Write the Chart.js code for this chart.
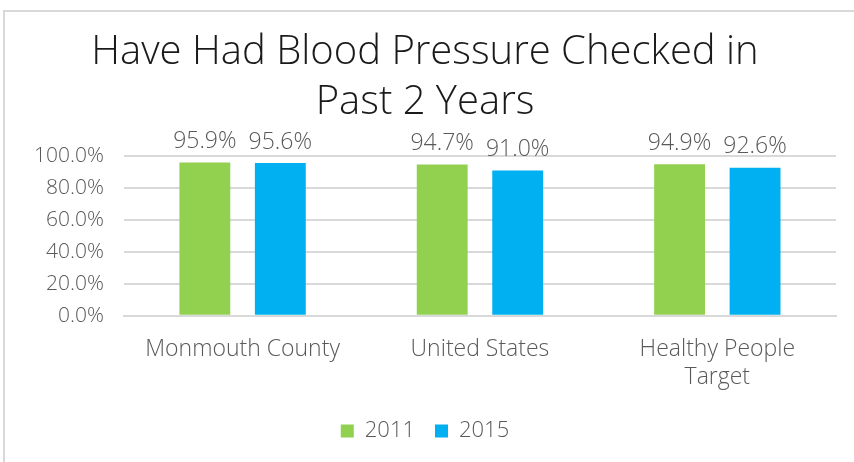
<!DOCTYPE html>
<html>
<head>
<meta charset="utf-8">
<script src="https://cdn.jsdelivr.net/npm/chart.js@4"></script>
<style>
  html, body { margin: 0; padding: 0; background: #fff; }
  #wrap { position: relative; width: 854px; height: 462px; overflow: hidden; }
  #frame {
    position: absolute; left: 3px; top: 10px; width: 900px; height: 500px;
    border-top: 2px solid #d9d9d9; border-left: 2px solid #d9d9d9;
  }
  canvas { position: absolute; left: 0; top: 0; }
</style>
</head>
<body>
<div id="wrap">
  <div id="frame"></div>
  <canvas id="bpChart" width="854" height="462"></canvas>
</div>
<script>
/* ============================================================
   DATA
   ============================================================ */
const categories = ["Monmouth County", "United States", ["Healthy People", "Target"]];
const seriesNames = ["2011", "2015"];
const values2011 = [95.9, 94.7, 94.9];
const values2015 = [95.6, 91.0, 92.6];
const yTicks = [0, 20, 40, 60, 80, 100];

const FONT = "'Open Sans', Lato, sans-serif";
const GREY = "#595959";

/* ============================================================
   DATA LABELS (small inline plugin)
   ============================================================ */
const barLabels = {
    id: "barLabels",
    afterDatasetsDraw(chart) {
        const ctx = chart.ctx;
        ctx.save();
        ctx.font = "300 23px " + FONT;
        ctx.fillStyle = GREY;
        ctx.textAlign = "center";
        ctx.textBaseline = "middle";
        chart.data.datasets.forEach((ds, i) => {
            chart.getDatasetMeta(i).data.forEach((bar, j) => {
                ctx.fillText(ds.data[j].toFixed(1) + "%", bar.x, bar.y - 21);
            });
        });
        ctx.restore();
    }
};

new Chart(document.getElementById("bpChart"), {
    type: "bar",
    data: {
        labels: categories,
        datasets: [
            { label: seriesNames[0], data: values2011, backgroundColor: "#92d050" },
            { label: seriesNames[1], data: values2015, backgroundColor: "#00b0f0" }
        ]
    },
    options: {
        responsive: false,
        animation: false,
        categoryPercentage: 0.636,
        barPercentage: 0.674,
        layout: { padding: { left: 14, right: 18, top: 28, bottom: 10 } },
        scales: {
            x: {
                grid: { display: false, drawTicks: false },
                border: { color: "#d9d9d9", width: 2 },
                ticks: { color: GREY, font: { family: FONT, size: 23, weight: 300, lineHeight: 1.2 }, padding: 20 },
                // axis reserves the padding twice; give the extra back to the plot
                afterFit: axis => { axis.height -= 11; }
            },
            y: {
                min: 0,
                max: 100,
                afterBuildTicks: axis => { axis.ticks = yTicks.map(v => ({ value: v })); },
                grid: { color: "#d9d9d9", lineWidth: 2, drawTicks: false },
                border: { display: false },
                ticks: {
                    color: GREY,
                    font: { family: FONT, size: 21, weight: 300 },
                    padding: 20,
                    callback: v => v.toFixed(1) + "%"
                }
            }
        },
        plugins: {
            title: {
                display: true,
                text: ["Have Had Blood Pressure Checked in", "Past 2 Years"],
                color: "#1a1a1a",
                font: { family: FONT, size: 40, weight: 300, lineHeight: 1.25 },
                padding: { top: 0, bottom: 28 }
            },
            legend: {
                position: "bottom",
                labels: {
                    color: GREY,
                    font: { family: FONT, size: 22, weight: 300 },
                    boxWidth: 13,
                    boxHeight: 13,
                    padding: 20
                }
            },
            tooltip: { enabled: false }
        }
    },
    plugins: [barLabels]
});
</script>
</body>
</html>
